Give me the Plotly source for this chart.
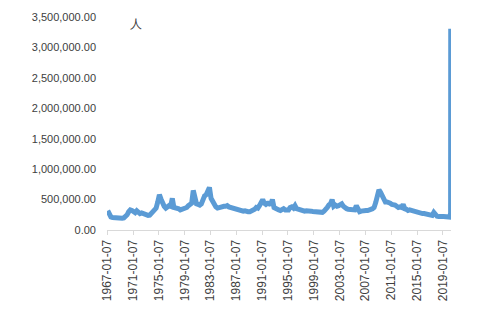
import plotly.graph_objects as go
import pandas as pd

# Quarterly estimates (thousands of persons), 1967Q1 .. 2019Q4
quarterly_k = [
    320, 240, 215, 205,   # 1967
    200, 195, 195, 190,   # 1968
    190, 195, 200, 215,   # 1969
    250, 300, 330, 320,   # 1970
    300, 285, 315, 290,   # 1971
    270, 280, 265, 250,   # 1972
    235, 240, 245, 275,   # 1973
    300, 310, 360, 460,   # 1974
    580, 510, 430, 390,   # 1975
    360, 380, 400, 390,   # 1976
    520, 370, 370, 350,   # 1977
    350, 330, 340, 350,   # 1978
    350, 370, 400, 410,   # 1979
    440, 650, 500, 430,   # 1980
    420, 410, 430, 510,   # 1981
    560, 580, 630, 700,   # 1982
    520, 460, 410, 380,   # 1983
    360, 370, 390, 380,   # 1984
    390, 390, 400, 380,   # 1985
    370, 375, 360, 350,   # 1986
    350, 330, 310, 300,   # 1987
    310, 315, 300, 300,   # 1988
    300, 310, 335, 340,   # 1989
    370, 360, 400, 470,   # 1990
    500, 440, 420, 440,   # 1991
    440, 410, 500, 370,   # 1992
    350, 350, 330, 320,   # 1993
    340, 350, 330, 320,   # 1994
    330, 370, 380, 360,   # 1995
    400, 350, 340, 340,   # 1996
    330, 320, 310, 315,   # 1997
    320, 320, 310, 305,   # 1998
    300, 300, 290, 290,   # 1999
    280, 290, 310, 330,   # 2000
    370, 410, 430, 500,   # 2001
    390, 410, 390, 400,   # 2002
    410, 430, 390, 360,   # 2003
    350, 340, 340, 330,   # 2004
    320, 330, 400, 320,   # 2005
    300, 310, 320, 320,   # 2006
    320, 320, 320, 340,   # 2007
    350, 370, 450, 530,   # 2008
    660, 620, 560, 500,   # 2009
    460, 460, 460, 440,   # 2010
    420, 420, 410, 390,   # 2011
    370, 380, 370, 420,   # 2012
    350, 340, 320, 330,   # 2013
    320, 310, 300, 290,   # 2014
    290, 280, 270, 270,   # 2015
    270, 260, 260, 250,   # 2016
    245, 240, 290, 240,   # 2017
    225, 220, 210, 220,   # 2018
    220, 215, 215, 215,   # 2019
]
final_dates = ["2020-01-04", "2020-02-01", "2020-03-14", "2020-03-21"]
final_k = [215, 212, 282, 3307]

tick_labels = ["1967-01-07", "1971-01-07", "1975-01-07", "1979-01-07", "1983-01-07",
               "1987-01-07", "1991-01-07", "1995-01-07", "1999-01-07", "2003-01-07",
               "2007-01-07", "2011-01-07", "2015-01-07", "2019-01-07"]

q_dates = pd.date_range("1967-01-07", periods=len(quarterly_k), freq="3MS") + pd.Timedelta(days=6)
dates = list(q_dates.strftime("%Y-%m-%d")) + final_dates
values = [v * 1000 for v in quarterly_k + final_k]

fig = go.Figure()
fig.add_trace(go.Scatter(x=dates, y=values, mode="lines",
                         line=dict(color="#5B9BD5", width=5), showlegend=False))

fig.add_annotation(text="人", xref="paper", yref="paper",
                   x=(136 - 107) / (500 - 107 - 49), y=(230 - 24) / 213,
                   xanchor="center", yanchor="middle",
                   showarrow=False, font=dict(size=12, color="#404040"))

fig.update_layout(
    width=500, height=319,
    margin=dict(l=107, r=49, t=17, b=89),
    paper_bgcolor="white", plot_bgcolor="white",
    font=dict(family="Liberation Sans, Arial", color="#404040", size=11),
)
fig.update_xaxes(
    type="date", range=["1966-12-28", "2020-04-05"],
    tickvals=tick_labels, ticktext=tick_labels, tickangle=-90,
    showgrid=False, zeroline=False,
    showline=True, linecolor="#D9D9D9", linewidth=1,
    ticks="outside", ticklen=4, tickcolor="#D9D9D9",
    tickfont=dict(size=12, color="#404040"),
)
fig.update_yaxes(
    range=[0, 3500000], dtick=500000, tickformat=",.2f",
    showgrid=False, zeroline=False, showline=False,
    ticklabelstandoff=10,
    tickfont=dict(size=11, color="#404040"),
)

fig.write_html("out.html")
